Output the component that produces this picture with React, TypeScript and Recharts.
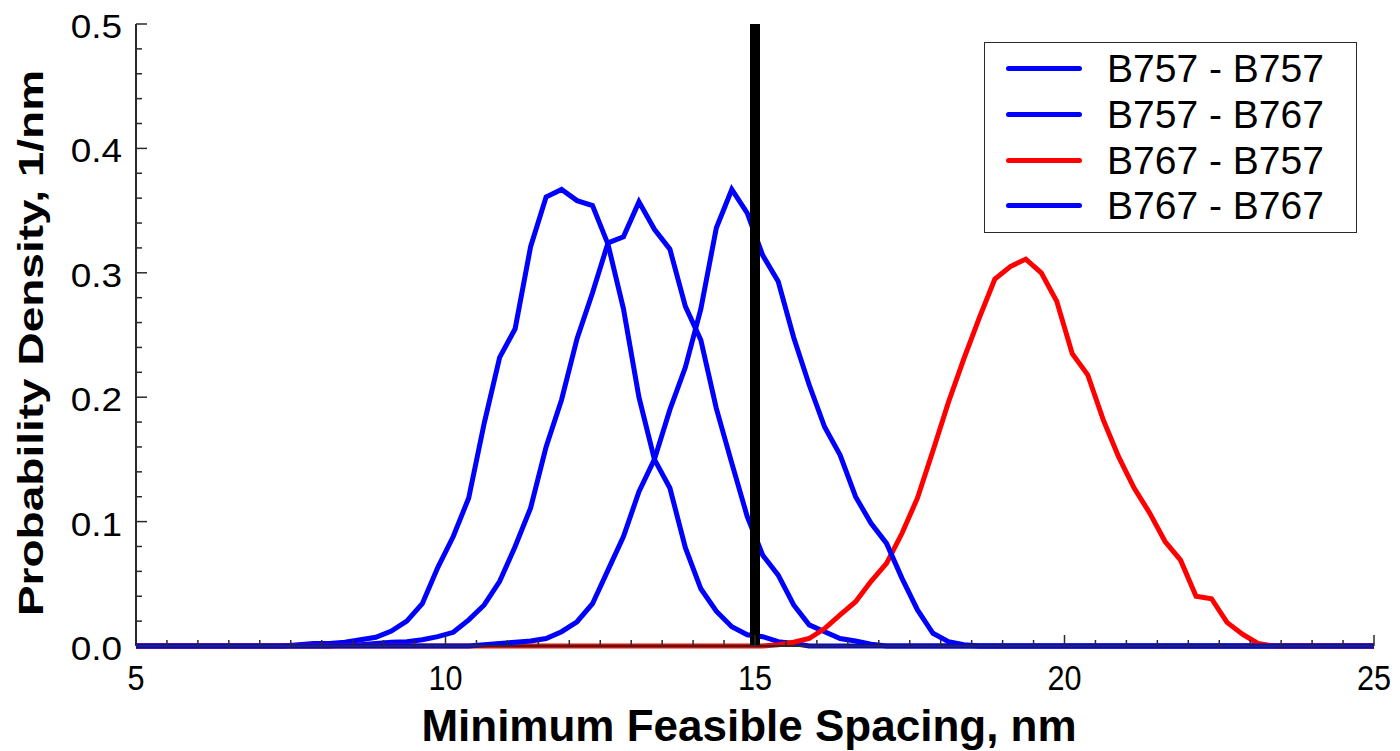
import { Legend, Line, LineChart, ReferenceLine, XAxis, YAxis } from "recharts";

const FONT = "'Liberation Sans', Arial, Helvetica, sans-serif";
const AXIS = "#2a2a2a";

// bin centres, nm (zero outside 7.4 .. 23.4)
const spacingNm = [
  5, 7.375, 7.625, 7.875, 8.125, 8.375, 8.625, 8.875, 9.125, 9.375, 9.625,
  9.875, 10.125, 10.375, 10.625, 10.875, 11.125, 11.375, 11.625, 11.875,
  12.125, 12.375, 12.625, 12.875, 13.125, 13.375, 13.625, 13.875, 14.125,
  14.375, 14.625, 14.875, 15.125, 15.375, 15.625, 15.875, 16.125, 16.375,
  16.625, 16.875, 17.125, 17.375, 17.625, 17.875, 18.125, 18.375, 18.625,
  18.875, 19.125, 19.375, 19.625, 19.875, 20.125, 20.375, 20.625, 20.875,
  21.125, 21.375, 21.625, 21.875, 22.125, 22.375, 22.625, 22.875, 23.125,
  23.375, 25,
];

const b757b757 = [
  0, 0, 0.001, 0.002, 0.002, 0.003, 0.005, 0.007, 0.012, 0.02, 0.034,
  0.063, 0.088, 0.119, 0.179, 0.232, 0.255, 0.321, 0.361, 0.367,
  0.358, 0.354, 0.323, 0.271, 0.2, 0.15, 0.127, 0.079, 0.046,
  0.028, 0.0155, 0.009, 0.0075, 0.0035, 0.002, 0, 0, 0,
  0, 0, 0, 0, 0, 0, 0, 0, 0,
  0, 0, 0, 0, 0, 0, 0, 0, 0,
  0, 0, 0, 0, 0, 0, 0, 0, 0,
  0, 0,
];

const b757b767 = [
  0, 0, 0, 0, 0, 0.001, 0.001, 0.002, 0.003, 0.0035, 0.005,
  0.0075, 0.011, 0.021, 0.033, 0.052, 0.08, 0.111, 0.16, 0.198,
  0.247, 0.284, 0.324, 0.329, 0.357, 0.335, 0.319, 0.273, 0.246,
  0.191, 0.147, 0.104, 0.073, 0.057, 0.033, 0.017, 0.0115, 0.006,
  0.004, 0.0015, 0, 0, 0, 0, 0, 0, 0,
  0, 0, 0, 0, 0, 0, 0, 0, 0,
  0, 0, 0, 0, 0, 0, 0, 0, 0,
  0, 0,
];

const b767b757 = [
  0, 0, 0, 0, 0, 0, 0, 0, 0, 0, 0,
  0, 0, 0, 0, 0, 0, 0, 0, 0,
  0, 0, 0, 0, 0, 0, 0, 0, 0,
  0, 0, 0, 0, 0.001, 0.003, 0.006, 0.014, 0.025,
  0.0356, 0.052, 0.0665, 0.0906, 0.119, 0.157, 0.196, 0.231, 0.264,
  0.295, 0.305, 0.311, 0.3, 0.277, 0.235, 0.218, 0.182, 0.152,
  0.127, 0.107, 0.084, 0.069, 0.04, 0.038, 0.019, 0.0095, 0.002,
  0, 0,
];

const b767b767 = [
  0, 0, 0, 0, 0, 0, 0, 0, 0, 0, 0,
  0, 0, 0, 0.001, 0.002, 0.003, 0.004, 0.006, 0.0115,
  0.0195, 0.034, 0.061, 0.088, 0.124, 0.15, 0.19, 0.224, 0.271,
  0.336, 0.367, 0.348, 0.314, 0.293, 0.248, 0.21, 0.176, 0.1535,
  0.12, 0.0986, 0.0825, 0.0544, 0.029, 0.0102, 0.0035, 0.001, 0,
  0, 0, 0, 0, 0, 0, 0, 0, 0,
  0, 0, 0, 0, 0, 0, 0, 0, 0,
  0, 0,
];

const seriesList = [
  { name: "B757 - B757", values: b757b757, color: "#0000ff" },
  { name: "B757 - B767", values: b757b767, color: "#0000ff" },
  { name: "B767 - B757", values: b767b757, color: "#ff0000" },
  { name: "B767 - B767", values: b767b767, color: "#0000ff" },
];

const xTicks = [
  5, 5.5, 6, 6.5, 7, 7.5, 8, 8.5, 9, 9.5, 10, 10.5, 11, 11.5, 12, 12.5, 13,
  13.5, 14, 14.5, 15, 15.5, 16, 16.5, 17, 17.5, 18, 18.5, 19, 19.5, 20, 20.5,
  21, 21.5, 22, 22.5, 23, 23.5, 24, 24.5, 25,
];
const xMajor = [5, 10, 15, 20, 25];

const yTicks = [
  0, 0.02, 0.04, 0.06, 0.08, 0.1, 0.12, 0.14, 0.16, 0.18, 0.2, 0.22, 0.24,
  0.26, 0.28, 0.3, 0.32, 0.34, 0.36, 0.38, 0.4, 0.42, 0.44, 0.46, 0.48, 0.5,
];
const yMajor = [0, 0.1, 0.2, 0.3, 0.4, 0.5];

const threshold = 15;

const isMajor = (list: number[], v: number) =>
  list.some((m) => Math.abs(m - v) < 1e-6);

function BottomTick({ x, y, payload }: any) {
  const major = isMajor(xMajor, payload.value);
  return (
    <g>
      <line x1={x} x2={x} y1={y} y2={y - (major ? 11 : 6)} stroke={AXIS} strokeWidth={1.5} />
      {major && (
        <text
          transform={`translate(${x},${y + 44}) scale(0.85,1)`}
          textAnchor="middle"
          fontSize={36}
          fontFamily={FONT}
          fill="#000"
        >
          {payload.value}
        </text>
      )}
    </g>
  );
}

function TopTick({ x, y, payload }: any) {
  const major = isMajor(xMajor, payload.value);
  return <line x1={x} x2={x} y1={y} y2={y + (major ? 11 : 6)} stroke={AXIS} strokeWidth={1.5} />;
}

function LeftTick({ x, y, payload }: any) {
  const major = isMajor(yMajor, payload.value);
  return (
    <g>
      <line x1={x} x2={x + (major ? 11 : 6)} y1={y} y2={y} stroke={AXIS} strokeWidth={1.5} />
      {major && (
        <text
          transform={`translate(${x - 14},${y + 14}) scale(1.12,1)`}
          textAnchor="end"
          fontSize={33}
          fontFamily={FONT}
          fill="#000"
        >
          {payload.value.toFixed(1)}
        </text>
      )}
    </g>
  );
}

function RightTick({ x, y, payload }: any) {
  const major = isMajor(yMajor, payload.value);
  return <line x1={x} x2={x - (major ? 11 : 6)} y1={y} y2={y} stroke={AXIS} strokeWidth={1.5} />;
}

function XTitle(props: any) {
  const vb = props.viewBox ?? { x: 136, y: 646, width: 1238, height: 105 };
  return (
    <text
      x={vb.x + vb.width / 2 - 6}
      y={vb.y + 95}
      textAnchor="middle"
      fontSize={44}
      fontWeight="bold"
      fontFamily={FONT}
      fill="#000"
    >
      Minimum Feasible Spacing, nm
    </text>
  );
}

function YTitle(props: any) {
  const vb = props.viewBox ?? { x: 0, y: 24, width: 136, height: 622 };
  const cy = vb.y + vb.height / 2 + 8;
  return (
    <text
      transform={`translate(43,${cy}) scale(0.78,1) rotate(-90)`}
      textAnchor="middle"
      fontSize={46}
      fontWeight="bold"
      fontFamily={FONT}
      fill="#000"
    >
      Probability Density, 1/nm
    </text>
  );
}

function LegendBox() {
  return (
    <div
      style={{
        width: 373,
        height: 191,
        boxSizing: "border-box",
        border: `1.5px solid ${AXIS}`,
        background: "#fff",
        padding: "3px 0",
        fontFamily: FONT,
      }}
    >
      {seriesList.map((s) => (
        <div key={s.name} style={{ display: "flex", alignItems: "center", height: 45.7 }}>
          <span
            style={{
              display: "inline-block",
              marginLeft: 21,
              width: 76,
              height: 5,
              borderRadius: 2.5,
              background: s.color,
            }}
          />
          <span style={{ marginLeft: 25, fontSize: 39, lineHeight: "45px", color: "#000" }}>
            {s.name}
          </span>
        </div>
      ))}
    </div>
  );
}

export default function App() {
  return (
    <div style={{ position: "absolute", left: 0, top: 0, background: "#fff" }}>
      <LineChart width={1400} height={751} margin={{ top: 24, right: 26, left: 0, bottom: 0 }}>
        <XAxis
          type="number"
          dataKey="x"
          domain={[5, 25]}
          ticks={xTicks}
          interval={0}
          height={105}
          tickSize={0}
          tickMargin={0}
          tick={<BottomTick />}
          axisLine={{ stroke: AXIS, strokeWidth: 2 }}
          tickLine={false}
          label={{ content: XTitle }}
        />
        <XAxis
          xAxisId="top"
          orientation="top"
          type="number"
          dataKey="x"
          domain={[5, 25]}
          ticks={xTicks}
          interval={0}
          height={0}
          tickSize={0}
          tickMargin={0}
          tick={<TopTick />}
          axisLine={{ stroke: AXIS, strokeWidth: 2 }}
          tickLine={false}
        />
        <YAxis
          type="number"
          domain={[0, 0.5]}
          ticks={yTicks}
          interval={0}
          width={136}
          tickSize={0}
          tickMargin={0}
          tick={<LeftTick />}
          axisLine={{ stroke: AXIS, strokeWidth: 2 }}
          tickLine={false}
          label={{ content: YTitle }}
        />
        <YAxis
          yAxisId="right"
          orientation="right"
          type="number"
          domain={[0, 0.5]}
          ticks={yTicks}
          interval={0}
          width={0}
          tickSize={0}
          tickMargin={0}
          tick={<RightTick />}
          axisLine={{ stroke: AXIS, strokeWidth: 2 }}
          tickLine={false}
        />
        {seriesList.map((s) => (
          <Line
            key={s.name}
            name={s.name}
            data={spacingNm.map((x, i) => ({ x, y: s.values[i] }))}
            dataKey="y"
            type="linear"
            stroke={s.color}
            strokeWidth={5}
            dot={false}
            activeDot={false}
            isAnimationActive={false}
          />
        ))}
        <ReferenceLine x={threshold} stroke="#000" strokeWidth={10} />
        <Legend
          layout="vertical"
          align="center"
          verticalAlign="middle"
          content={<LegendBox />}
          wrapperStyle={{ left: 984, top: 42, width: 373, height: 191 }}
        />
      </LineChart>
    </div>
  );
}
